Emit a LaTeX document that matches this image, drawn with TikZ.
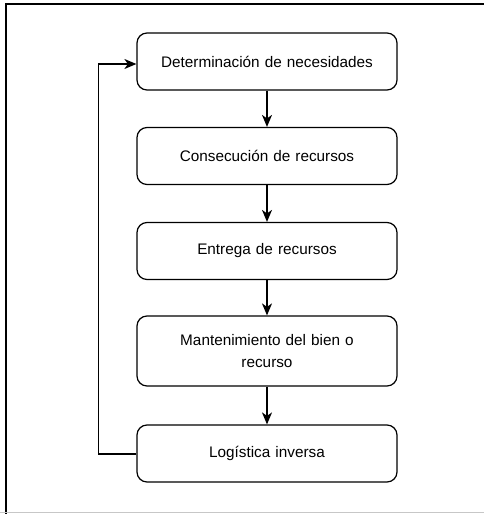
\documentclass[tikz,border=0pt]{standalone}
\usepackage{fontspec}
\setmainfont{Liberation Sans}
\usetikzlibrary{arrows.meta}
\begin{document}
\begin{tikzpicture}[x=1pt,y=-1pt,
  stepbox/.style={draw, line width=1.2pt, rounded corners=10pt, minimum width=260pt, minimum height=57pt, align=center, font=\fontsize{15.3}{21.5}\selectfont, inner sep=2pt, text width=240pt},
  flow/.style={line width=1.2pt, -{Stealth[length=12pt,width=10pt,inset=3.5pt]}}]
\useasboundingbox (0,0) rectangle (484,514);
\draw[line width=2pt] (6,514) -- (6,4.3) -- (484,4.3);
\draw[line width=1pt, black!22] (0,512.7) -- (484,512.7);
\node[stepbox] (a) at (267,61.5) {Determinación de necesidades};
\node[stepbox] (b) at (267,156) {Consecución de recursos};
\node[stepbox] (c) at (267,251) {Entrega de recursos};
\node[stepbox, minimum height=70pt] (d) at (267,351) {Mantenimiento del bien o\\recurso};
\node[stepbox] (e) at (267,453.5) {Logística inversa};
\draw[flow] (a) -- (b);
\draw[flow] (b) -- (c);
\draw[flow] (c) -- (d);
\draw[flow] (d) -- (e);
\coordinate (lb) at (98.3,454);
\coordinate (lt) at (98.3,64);
\draw[flow] (e.west |- lb) -- (lb) -- (lt) -- (a.west |- lt);
\end{tikzpicture}
\end{document}
